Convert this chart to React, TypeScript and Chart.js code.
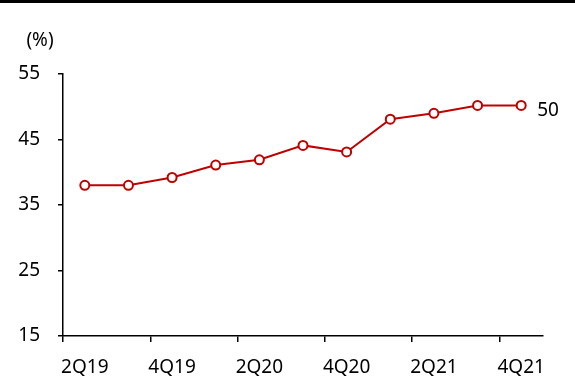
import React, { useEffect, useRef } from 'react';
import { Chart, registerables } from 'chart.js';

Chart.register(...registerables);

const categories = ['2Q19', '3Q19', '4Q19', '1Q20', '2Q20', '3Q20', '4Q20', '1Q21', '2Q21', '3Q21', '4Q21'];
const values = [38.0, 38.0, 39.2, 41.1, 41.9, 44.1, 43.1, 48.1, 49.0, 50.2, 50.2];
const yMin = 15;
const yMax = 55;
const yStep = 10;
const lastLabel = '50';
const unitLabel = '(%)';

const FONT = '"Noto Sans", "Open Sans", sans-serif';
const RED = '#C00000';
const FS = 19;

const overlay = {
  id: 'overlay',
  afterDraw(chart: any) {
    const ctx = chart.ctx;
    ctx.save();
    ctx.fillStyle = '#000';
    ctx.fillRect(0, 0, chart.width, 3);
    ctx.font = `${FS}px ${FONT}`;
    ctx.textAlign = 'center';
    ctx.textBaseline = 'middle';
    ctx.fillText(unitLabel, 40, 41);
    const meta = chart.getDatasetMeta(0);
    const pt = meta.data[meta.data.length - 1];
    ctx.textAlign = 'left';
    ctx.fillText(lastLabel, pt.x + 16, pt.y + 5);
    ctx.restore();
  },
};

export default function App() {
  const ref = useRef<HTMLCanvasElement | null>(null);
  useEffect(() => {
    if (!ref.current) return;
    const chart = new Chart(ref.current, {
      type: 'line',
      data: {
        labels: categories,
        datasets: [
          {
            data: values,
            borderColor: RED,
            borderWidth: 2,
            backgroundColor: '#fff',
            pointBackgroundColor: '#fff',
            pointBorderColor: RED,
            pointBorderWidth: 2,
            pointRadius: 4.5,
            tension: 0,
          },
        ],
      },
      options: {
        animation: false,
        responsive: false,
        devicePixelRatio: 1,
        layout: { padding: { top: 74, right: 32, left: 0, bottom: 0 } },
        plugins: { legend: { display: false }, tooltip: { enabled: false } },
        scales: {
          x: {
            type: 'category',
            offset: true,
            grid: {
              offset: true,
              drawOnChartArea: false,
              drawTicks: true,
              tickLength: 6,
              lineWidth: 1.5,
              color: (c: any) => (c.index % 2 === 0 ? '#000' : 'rgba(0,0,0,0)'),
            },
            border: { display: true, color: '#000', width: 1.5 },
            ticks: {
              autoSkip: false,
              maxRotation: 0,
              minRotation: 0,
              color: '#000',
              font: { size: FS, family: FONT },
              padding: 14,
              callback: (_v: any, i: number) => (i % 2 === 0 ? categories[i] : ''),
            },
            afterFit: (s: any) => {
              s.height = 56;
            },
          },
          y: {
            min: yMin,
            max: yMax,
            grid: {
              drawOnChartArea: false,
              drawTicks: true,
              tickLength: 5,
              lineWidth: 1.5,
              color: '#000',
            },
            border: { display: true, color: '#000', width: 1.5 },
            ticks: {
              stepSize: yStep,
              color: '#000',
              font: { size: FS, family: FONT },
              padding: 18,
            },
            afterFit: (s: any) => {
              s.width = 63;
            },
          },
        },
      },
      plugins: [overlay],
    });
    return () => chart.destroy();
  }, []);
  return (
    <div style={{ position: 'fixed', left: 0, top: 0, width: 575, height: 392, background: '#fff' }}>
      <canvas ref={ref} width={575} height={392} style={{ width: 575, height: 392 }} />
    </div>
  );
}
